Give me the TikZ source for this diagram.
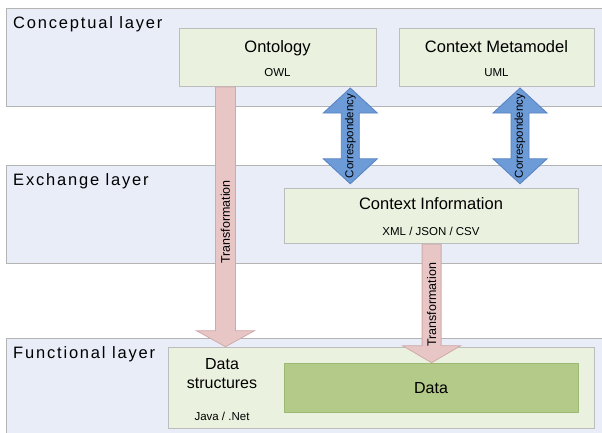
\documentclass[tikz,border=0pt]{standalone}
\usepackage{fontspec}
\setmainfont{Liberation Sans}
\newfontfamily\layerfont[LetterSpace=11]{Liberation Sans}
\usetikzlibrary{calc}
\definecolor{layerfill}{HTML}{E8EDF8}
\definecolor{layerline}{HTML}{B4B4B4}
\definecolor{boxfill}{HTML}{EAF1DE}
\definecolor{boxline}{HTML}{BDBDBD}
\definecolor{datafill}{HTML}{B4CA88}
\definecolor{dataline}{HTML}{9DB872}
\definecolor{pinkfill}{HTML}{E8C6C6}
\definecolor{pinkline}{HTML}{CFAAAA}
\definecolor{bluefill}{HTML}{6C9BD8}
\definecolor{blueline}{HTML}{5682C0}
\tikzset{
  layer/.style={draw=layerline, fill=layerfill, line width=1pt, anchor=north west, inner sep=0pt},
  box/.style={draw=boxline, fill=boxfill, line width=1pt, anchor=north west, inner sep=0pt},
  databox/.style={draw=dataline, fill=datafill, line width=1pt, anchor=north west, inner sep=0pt},
  layerlabel/.style={anchor=base west, inner sep=0pt, font=\layerfont\fontsize{16.5}{19}\selectfont},
  title/.style={anchor=base, inner sep=0pt, font=\fontsize{16.5}{19}\selectfont},
  sub/.style={anchor=base, inner sep=0pt, font=\fontsize{11.5}{14}\selectfont},
  tarrow/.style={fill=pinkfill, draw=pinkline, line width=0.8pt},
  carrow/.style={fill=bluefill, draw=blueline, line width=0.8pt},
  tlabel/.style={rotate=90, inner sep=0pt, font=\fontsize{12.5}{15}\selectfont},
  clabel/.style={rotate=90, inner sep=0pt, font=\fontsize{11.5}{14}\selectfont},
}
% #1 style, #2 tail, #3 tip, #4 half shaft, #5 half head, #6 head length
\newcommand\singlearrow[6]{%
  \path[#1] let \p1=(#2), \p2=(#3) in
    (\x1-#4,\y1) -- (\x1-#4,\y2+#6) -- (\x1-#5,\y2+#6) -- (\x1,\y2)
    -- (\x1+#5,\y2+#6) -- (\x1+#4,\y2+#6) -- (\x1+#4,\y1) -- cycle;}
\newcommand\doublearrow[6]{%
  \path[#1] let \p1=(#2), \p2=(#3) in
    (\x1,\y1) -- (\x1+#5,\y1-#6) -- (\x1+#4,\y1-#6) -- (\x1+#4,\y2+#6)
    -- (\x1+#5,\y2+#6) -- (\x1,\y2) -- (\x1-#5,\y2+#6) -- (\x1-#4,\y2+#6)
    -- (\x1-#4,\y1-#6) -- (\x1-#5,\y1-#6) -- cycle;}
\begin{document}
\begin{tikzpicture}[x=1pt,y=-1pt]
\useasboundingbox (0,0) rectangle (602,432);
\clip (0,0) rectangle (602,432);
% layers
\node[layer, minimum width=600pt, minimum height=98pt] (Lc) at (6,8) {};
\node[layer, minimum width=600pt, minimum height=97.7pt] (Le) at (6,165) {};
\node[layer, minimum width=600pt, minimum height=100pt] (Lf) at (6,338) {};
\node[layerlabel] (lc) at (13,28) {Conceptual layer};
\node[layerlabel] (le) at (13,185) {Exchange layer};
\node[layerlabel] (lf) at (13,358) {Functional layer};
% boxes
\node[box, minimum width=196.3pt, minimum height=58pt] (onto) at (179.3,28) {};
\node[box, minimum width=195.8pt, minimum height=58pt] (meta) at (398.6,28) {};
\node[box, minimum width=293.8pt, minimum height=55pt] (ci) at (284.2,188.3) {};
\node[box, minimum width=426.2pt, minimum height=81.6pt] (fbox) at (168.2,346.7) {};
\node[databox, minimum width=293.8pt, minimum height=49pt] (data) at (284.2,362.7) {};
% texts
\node[title] (ontot) at (277.5,52) {Ontology};
\node[sub] (ontos) at (277.5,76) {OWL};
\node[title] (metat) at (496.5,52) {Context Metamodel};
\node[sub] (metas) at (496.5,76) {UML};
\node[title] (cit) at (431,209) {Context Information};
\node[sub] (cis) at (431,235) {XML / JSON / CSV};
\node[title, font=\fontsize{16}{19}\selectfont] (dsa) at (222,369.3) {Data};
\node[title, font=\fontsize{16}{19}\selectfont] (dsb) at (222,388.3) {structures};
\node[sub] (dss) at (222,420) {Java / .Net};
\node[title, font=\fontsize{16}{19}\selectfont] (datat) at (431,393) {Data};
% connector end points
\coordinate (t1a) at ($(onto.south west)+(46.2,0)$);
\coordinate (t1b) at (t1a |- fbox.north);
\coordinate (c1a) at ($(onto.south east)+(-26.3,1)$);
\coordinate (c1b) at ($(c1a |- ci.north)+(0,-4.5)$);
\coordinate (c2a) at ($(meta.south west)+(121.4,1)$);
\coordinate (c2b) at ($(c2a |- ci.north)+(0,-4.5)$);
% transformation arrows
\singlearrow{tarrow}{t1a}{t1b}{10pt}{29pt}{16pt}
\singlearrow{tarrow}{ci.south}{data.north}{9.5pt}{29pt}{17pt}
\node[tlabel] (t1l) at ($(t1a)!0.52!(t1b)$) {Transformation};
\node[tlabel] (t2l) at ($(ci.south)!0.51!(data.north)$) {Transformation};
% correspondency arrows
\doublearrow{carrow}{c1a}{c1b}{9pt}{27pt}{25pt}
\doublearrow{carrow}{c2a}{c2b}{9pt}{27pt}{25pt}
\node[clabel] (c1l) at ($(c1a)!0.5!(c1b)$) {Correspondency};
\node[clabel] (c2l) at ($(c2a)!0.5!(c2b)$) {Correspondency};
\end{tikzpicture}
\end{document}
